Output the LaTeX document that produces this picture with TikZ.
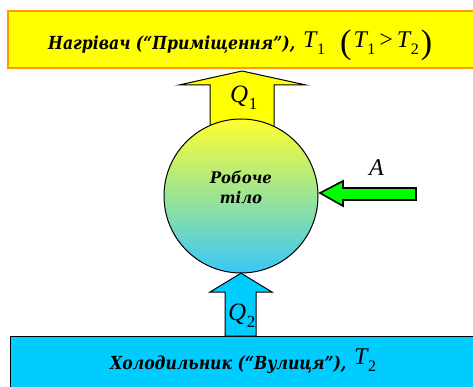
\documentclass[tikz,border=0pt]{standalone}
\usepackage{fontspec}
\newfontfamily\bifont{DejaVu Serif}
\newfontfamily\tmfont{Liberation Serif}
\definecolor{heatyellow}{HTML}{FFFF00}
\definecolor{heatorange}{HTML}{FF9900}
\definecolor{coldcyan}{HTML}{00CCFF}
\definecolor{workgreen}{HTML}{00FF00}
\definecolor{balltop}{HTML}{FFFF30}
\definecolor{ballmid}{HTML}{BDE9A0}
\definecolor{ballbot}{HTML}{38C8F8}
\newcommand\lbl[2]{\scalebox{#1}[1]{\bifont\bfseries\itshape #2}}
% size, letter, sub size, sub, drop
\newcommand\sym[5]{{\tmfont\fontsize{#1}{#1}\selectfont\itshape #2}\kern0.5pt\raisebox{-#5}{\tmfont\fontsize{#3}{#3}\selectfont #4}}
\newcommand\bigpar[1]{{\tmfont\fontsize{34}{34}\selectfont\raisebox{-6pt}{#1}}}
\begin{document}
\begin{tikzpicture}[x=1pt,y=-1pt,
  lbltext/.style={inner sep=0pt,anchor=base west},
  heatarrow/.style={draw=black,line width=1pt,line join=miter},
  ]
\useasboundingbox (0,0) rectangle (473,387);
% hot reservoir
\draw[fill=heatyellow,draw=heatorange,line width=1.5pt] (8,11) rectangle (490,68);
\node[lbltext,font=\fontsize{18}{18}\selectfont] (hot) at (48,50) {\lbl{0.87}{Нагрівач (“Приміщення”),}};
\node[lbltext] (t1) at (303,48) {\sym{24}{T}{16}{1}{7pt}};
\node[lbltext] (ineq) at (340,48) {\bigpar{(}\kern2pt\sym{24}{T}{16}{1}{7pt}\kern4pt{\tmfont\fontsize{24}{24}\selectfont >}\kern4pt\sym{24}{T}{16}{2}{7pt}\kern2pt\bigpar{)}};
% Q1 arrow
\draw[heatarrow,fill=heatyellow] (242,71) -- (306,85) -- (274,85) -- (274,140) -- (210,140) -- (210,85) -- (179,85) -- cycle;
\node[lbltext] (q1) at (230,103) {\sym{25}{Q}{17}{1}{7pt}};
% working body
\shade[top color=balltop,middle color=ballmid,bottom color=ballbot,draw=black,line width=1pt] (241,196) circle[radius=77];
\node[circle,minimum size=154pt,inner sep=0pt] (body) at (241,196) {};
\node[align=center,inner sep=0pt,font=\fontsize{16}{20}\selectfont] (bodytxt) at (241,187) {\lbl{0.93}{Робоче}\\\lbl{0.93}{тіло}};
% cold reservoir
\draw[fill=coldcyan,draw=black,line width=1pt] (10,336) rectangle (490,400);
\node[lbltext,font=\fontsize{18}{18}\selectfont] (cold) at (110,369) {\lbl{0.87}{Холодильник (“Вулиця”),}};
\node[lbltext] (t2) at (354,364) {\sym{24}{T}{16}{2}{7pt}};
% Q2 arrow
\draw[heatarrow,fill=coldcyan] (body.south) -- (272,292) -- (256,292) -- (256,336) -- (225,336) -- (225,292) -- (210,292) -- cycle;
\node[lbltext] (q2) at (228,320) {\sym{25}{Q}{17}{2}{7pt}};
% work arrow
\draw[draw=black,line width=1.6pt,fill=workgreen,line join=miter] (320,193) -- (343,181) -- (343,188) -- (416,188) -- (416,200) -- (343,200) -- (343,206) -- cycle;
\node[lbltext] (a) at (369,176) {{\tmfont\fontsize{24}{24}\selectfont\itshape A}};
\end{tikzpicture}
\end{document}
